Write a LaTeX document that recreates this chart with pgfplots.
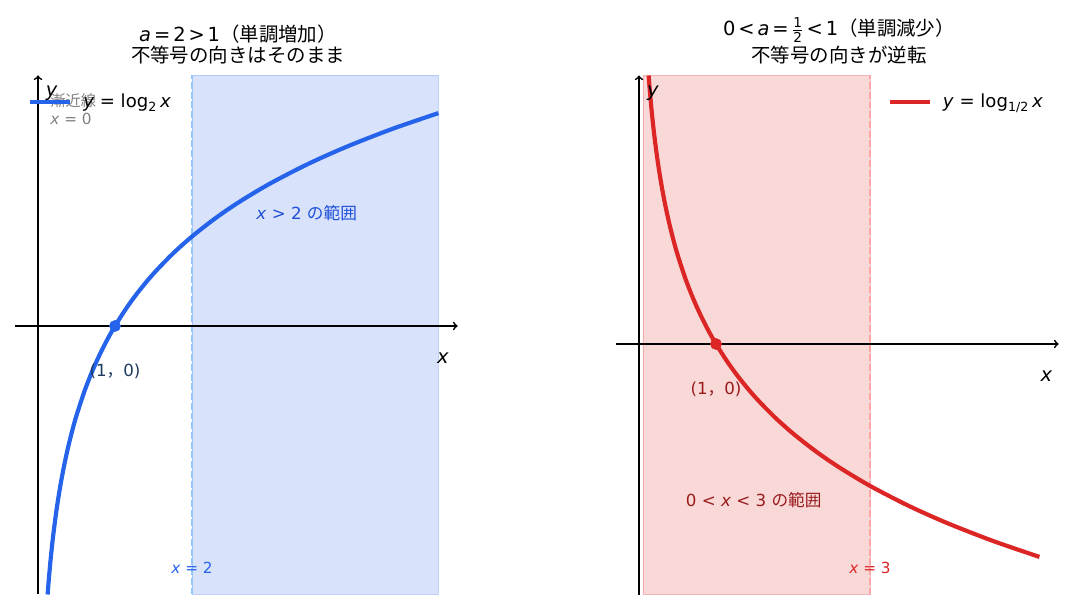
\documentclass[border=0pt]{standalone}
\usepackage{pgfplots}
\pgfplotsset{compat=1.18}
\usepackage{amsmath}
\usepackage{fontspec}
\setmainfont{DejaVu Sans}
\newfontfamily\cjk{Noto Sans CJK JP}

\definecolor{blueline}{HTML}{2563EB}
\definecolor{bluedash}{HTML}{93C5FD}
\definecolor{bluetext}{HTML}{1D4ED8}
\definecolor{bluedark}{HTML}{1E3A5F}
\definecolor{redline}{HTML}{DC2626}
\definecolor{reddash}{HTML}{FCA5A5}
\definecolor{reddark}{HTML}{991B1B}

\newcommand\fs[1]{\fontsize{#1}{1.2\dimexpr#1\relax}\selectfont}
\newcommand\mi[1]{\textit{#1}}
\newcommand\rel[1]{\kern0.15em#1\kern0.15em}

% log_2 x
\pgfplotstableread{
x y
0.125 -3
0.14 -2.8365
0.16 -2.6439
0.18 -2.4739
0.2 -2.3219
0.23 -2.1203
0.26 -1.9434
0.3 -1.737
0.35 -1.5146
0.4 -1.3219
0.45 -1.152
0.5 -1
0.6 -0.737
0.7 -0.5146
0.8 -0.3219
0.9 -0.152
1 0
1.15 0.2016
1.3 0.3785
1.5 0.585
1.75 0.8074
2 1
2.3 1.2016
2.6 1.3785
3 1.585
3.5 1.8074
4 2
4.6 2.2016
5.2 2.3785
}\logtwo

% log_{1/2} x
\pgfplotstableread{
x y
0.125 3
0.14 2.8365
0.16 2.6439
0.18 2.4739
0.2 2.3219
0.23 2.1203
0.26 1.9434
0.3 1.737
0.35 1.5146
0.4 1.3219
0.45 1.152
0.5 1
0.6 0.737
0.7 0.5146
0.8 0.3219
0.9 0.152
1 0
1.15 -0.2016
1.3 -0.3785
1.5 -0.585
1.75 -0.8074
2 -1
2.3 -1.2016
2.6 -1.3785
3 -1.585
3.5 -1.8074
4 -2
4.6 -2.2016
5.2 -2.3785
}\loghalf

\pgfplotsset{
  panel/.style={
    hide axis, clip=false, anchor=origin,
    x=55.44pt, y=64.44pt,
    xmin=-0.3, xmax=5.5,
    legend style={draw=none, fill=none, inner sep=0pt, outer sep=0pt,
      nodes={inner sep=1pt}, font=\fs{13pt},
      /tikz/every odd column/.append style={column sep=7pt}},
    legend image code/.code={%
      \draw[##1, line width=3pt] (0pt,0pt) -- (28.8pt,0pt);},
  },
}

\begin{document}
\begin{tikzpicture}
\useasboundingbox (0,0) rectangle (774.72pt,439.2pt);

% left panel
\begin{axis}[panel, at={(27.36pt,204.48pt)}, ymin=-3, ymax=2.8,
  legend style={at={(axis cs:-0.13,2.503)}, anchor=west}]
\addplot[forget plot, draw=blueline, draw opacity=0.25, fill=blueline, fill opacity=0.18]
  coordinates {(2,-3) (5.2,-3) (5.2,2.8) (2,2.8) (2,-3)};
\addplot[forget plot, bluedash, line width=1.6pt, dash pattern=on 5pt off 2pt]
  coordinates {(2,-3) (2,2.8)};
\addplot[forget plot, black, line width=1.2pt, ->] coordinates {(-0.3,0) (5.45,0)};
\addplot[forget plot, black, line width=1.2pt, ->] coordinates {(0,-3) (0,2.8)};
\addplot[blueline, line width=3pt, smooth] table {\logtwo};
\addlegendentry{\mi{y} = log$_{\text{2}}$\,\mi{x}}
\addplot[forget plot, only marks, mark=*, mark size=4pt, blueline] coordinates {(1,0)};
\node[bluetext, font=\fs{12pt}] at (axis cs:3.49,1.26) {\mi{x} > 2 {\cjk の範囲}};
\node[bluedark, font=\fs{12pt}] at (axis cs:1,-0.51) {(1{\cjk ，}0)};
\node[blueline, font=\fs{11pt}] at (axis cs:2,-2.7) {\mi{x} = 2};
\node[font=\fs{14pt}] at (axis cs:5.26,-0.36) {\mi{x}};
\node[font=\fs{14pt}] at (axis cs:0.18,2.6) {\mi{y}};
\node[gray, font=\fs{11pt}, anchor=west, inner sep=0pt, align=left] at (axis cs:0.156,2.42)
  {{\cjk 漸近線}\\\mi{x} = 0};
\end{axis}

% right panel
\begin{axis}[panel, at={(460.08pt,191.52pt)}, ymin=-2.8, ymax=3,
  legend style={at={(axis cs:3.23,2.704)}, anchor=west}]
\addplot[forget plot, draw=redline, draw opacity=0.25, fill=redline, fill opacity=0.18]
  coordinates {(0.05,-2.8) (3,-2.8) (3,3) (0.05,3) (0.05,-2.8)};
\addplot[forget plot, reddash, line width=1.6pt, dash pattern=on 5pt off 2pt]
  coordinates {(3,-2.8) (3,3)};
\addplot[forget plot, black, line width=1.2pt, ->] coordinates {(-0.3,0) (5.45,0)};
\addplot[forget plot, black, line width=1.2pt, ->] coordinates {(0,-2.8) (0,3)};
\addplot[redline, line width=3pt, smooth] table {\loghalf};
\addlegendentry{\mi{y} = log$_{\text{1/2}}$\,\mi{x}}
\addplot[forget plot, only marks, mark=*, mark size=4pt, redline] coordinates {(1,0)};
\node[reddark, font=\fs{12pt}] at (axis cs:1.49,-1.74) {0 < \mi{x} < 3 {\cjk の範囲}};
\node[reddark, font=\fs{12pt}] at (axis cs:1,-0.51) {(1{\cjk ，}0)};
\node[redline, font=\fs{11pt}] at (axis cs:3,-2.5) {\mi{x} = 3};
\node[font=\fs{14pt}] at (axis cs:5.29,-0.36) {\mi{x}};
\node[font=\fs{14pt}] at (axis cs:0.18,2.8) {\mi{y}};
\end{axis}

% titles
\node[font=\fs{14pt}] at (171.36pt,414.72pt) {\mi{a}\rel{=}2\rel{>}1{\cjk （単調増加）}};
\node[font=\fs{14pt}] at (171.36pt,399.6pt) {{\cjk 不等号の向きはそのまま}};
\node[font=\fs{14pt}] at (604.08pt,417.6pt) {0\rel{<}\mi{a}\rel{=}$\frac{\text{1}}{\text{2}}$\rel{<}1{\cjk （単調減少）}};
\node[font=\fs{14pt}] at (604.08pt,399.6pt) {{\cjk 不等号の向きが逆転}};
\end{tikzpicture}
\end{document}
